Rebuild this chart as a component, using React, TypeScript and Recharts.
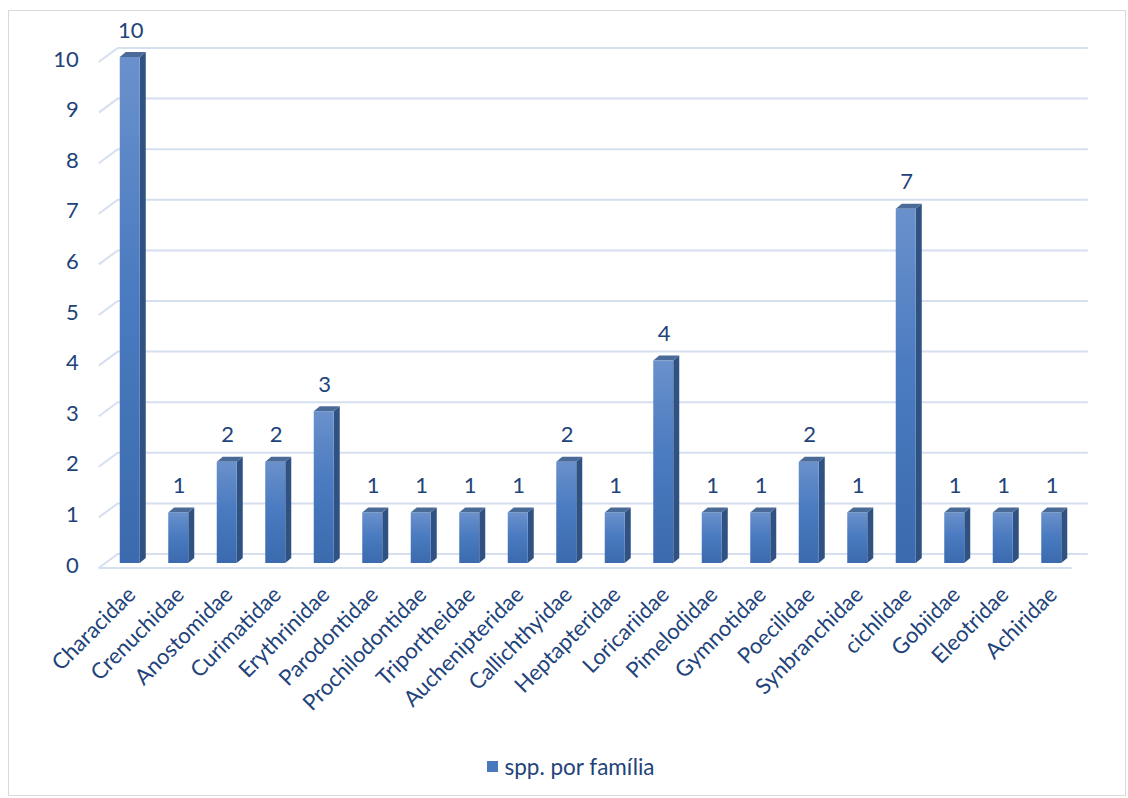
import { BarChart, Bar, XAxis, YAxis, CartesianGrid, Legend, LabelList } from 'recharts';

const families = [
  'Characidae', 'Crenuchidae', 'Anostomidae', 'Curimatidae', 'Erythrinidae',
  'Parodontidae', 'Prochilodontidae', 'Triportheidae', 'Auchenipteridae', 'Callichthyidae',
  'Heptapteridae', 'Loricariidae', 'Pimelodidae', 'Gymnotidae', 'Poecilidae',
  'Synbranchidae', 'cichlidae', 'Gobiidae', 'Eleotridae', 'Achiridae',
];
const species = [10, 1, 2, 2, 3, 1, 1, 1, 1, 2, 1, 4, 1, 1, 2, 1, 7, 1, 1, 1];
const yTicks = [0, 1, 2, 3, 4, 5, 6, 7, 8, 9, 10];

const data = families.map((name, i) => ({ name, value: species[i] }));

const TEXT = '#22437a';
const GRID = '#d5dff0';
const FONT = 'Lato, "Open Sans", sans-serif';
const FS = 22;

// 3D-ish column: front face, right side, top
function Column(props: any) {
  const { x, y, width, height } = props;
  const dx = 6;
  const dy = 5;
  return (
    <g>
      <polygon
        points={`${x + width},${y} ${x + width + dx},${y - dy} ${x + width + dx},${y + height - dy} ${x + width},${y + height}`}
        fill="#2f5283"
      />
      <polygon
        points={`${x},${y} ${x + dx},${y - dy} ${x + width + dx},${y - dy} ${x + width},${y}`}
        fill="#4a6a98"
      />
      <rect x={x} y={y} width={width} height={height} fill="url(#frontGrad)" />
    </g>
  );
}

function GridLine(props: any) {
  const { x1, x2, y1, index } = props;
  const front = y1 + 5;
  const back = y1 - 9;
  return (
    <g key={`g-${index}-${y1}`}>
      <path
        d={`M${x1 - 7},${front} L${x1 + 12},${back} L${x2 + 12},${back}`}
        fill="none"
        stroke={GRID}
        strokeWidth={2}
      />
      {Math.abs(y1 - 563) < 2 && (
        <path d={`M${x1 - 7},${front} L${x2 - 4},${front}`} stroke={GRID} strokeWidth={2} fill="none" />
      )}
    </g>
  );
}

function YTick(props: any) {
  const { x, y, payload } = props;
  return (
    <text x={x - 19} y={y + 4} textAnchor="end" dominantBaseline="middle" fill={TEXT} fontSize={FS} fontFamily={FONT}>
      {payload.value}
    </text>
  );
}

function XTick(props: any) {
  const { x, y, payload } = props;
  return (
    <g transform={`translate(${x + 3},${y + 21})`}>
      <text transform="rotate(-45)" textAnchor="end" dominantBaseline="middle" fill={TEXT} fontSize={FS} fontFamily={FONT}>
        {payload.value}
      </text>
    </g>
  );
}

function ValueLabel(props: any) {
  const { x, y, width, value } = props;
  return (
    <text x={x + width / 2 + 1} y={y - 25} textAnchor="middle" dominantBaseline="middle" fill={TEXT} fontSize={FS} fontFamily={FONT}>
      {value}
    </text>
  );
}

function LegendContent() {
  return (
    <div style={{ display: 'flex', justifyContent: 'center', alignItems: 'center', fontFamily: FONT, fontSize: 22.5, color: TEXT, paddingLeft: 14 }}>
      <span style={{ width: 11, height: 11, background: '#4a78be', marginRight: 6, display: 'inline-block' }} />
      <span>spp. por família</span>
    </div>
  );
}

export default function App() {
  return (
    <div style={{ position: 'absolute', left: 0, top: 0, width: 1128, height: 798, background: '#fff' }}>
      <div style={{ position: 'absolute', left: 8, top: 10, width: 1118, height: 786, border: '1px solid #d9d9d9', boxSizing: 'border-box' }} />
      <BarChart
        width={1128}
        height={798}
        data={data}
        margin={{ top: 57, right: 52.25, left: 5.75, bottom: 0 }}
        barSize={20}
      >
        <defs>
          <linearGradient id="frontGrad" x1="0" y1="0" x2="0" y2="1">
            <stop offset="0%" stopColor="#6a91cc" />
            <stop offset="45%" stopColor="#4b7bc0" />
            <stop offset="100%" stopColor="#3b6bae" />
          </linearGradient>
        </defs>
        <CartesianGrid vertical={false} horizontal={(p: any) => <GridLine {...p} />} />
        <XAxis
          dataKey="name"
          interval={0}
          axisLine={false}
          tickLine={false}
          height={150}
          tick={<XTick />}
        />
        <YAxis
          domain={[0, 10]}
          ticks={yTicks}
          axisLine={false}
          tickLine={false}
          width={100}
          tick={<YTick />}
        />
        <Legend
          verticalAlign="bottom"
          height={85}
          content={<LegendContent />}
          wrapperStyle={{ top: 753, left: 0, width: 1128 }}
        />
        <Bar dataKey="value" shape={<Column />} isAnimationActive={false}>
          <LabelList dataKey="value" content={<ValueLabel />} />
        </Bar>
      </BarChart>
    </div>
  );
}
